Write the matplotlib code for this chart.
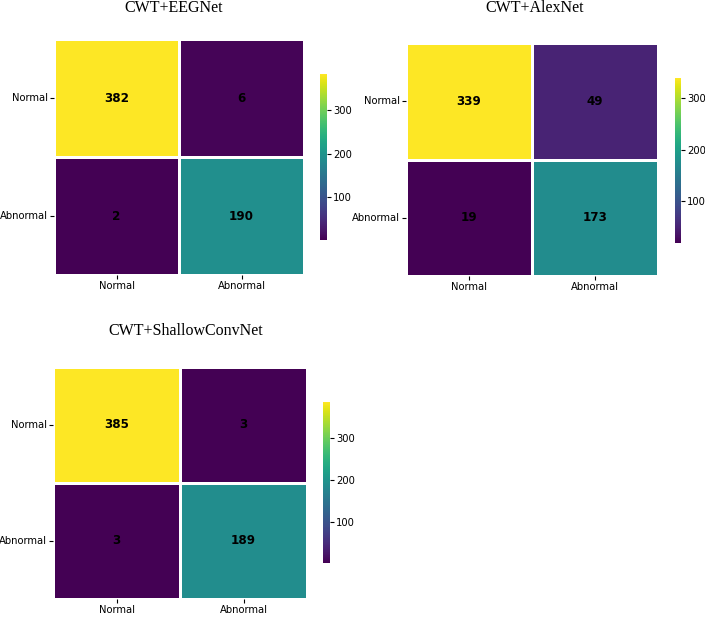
import matplotlib
matplotlib.use("Agg")
import matplotlib.pyplot as plt
import numpy as np
import seaborn as sns

labels = ["Normal", "Abnormal"]
titles = ["CWT+EEGNet", "CWT+AlexNet", "CWT+ShallowConvNet"]
cm_eegnet = [[382, 6], [2, 190]]
cm_alexnet = [[339, 49], [19, 173]]
cm_shallow = [[385, 3], [3, 189]]
matrices = [cm_eegnet, cm_alexnet, cm_shallow]

plt.rcParams["font.family"] = ["DejaVu Sans"]
plt.rcParams["font.stretch"] = "condensed"

fig = plt.figure(figsize=(7.05, 6.21), dpi=100)

W, H = 705, 621
def rect(x0, y0, x1, y1):
    return [x0 / W, 1 - y1 / H, (x1 - x0) / W, (y1 - y0) / H]

panels = [
    (rect(54, 39, 304, 275), rect(320, 74, 327, 240), (174, 8)),
    (rect(406, 43, 658, 276), rect(675, 78, 681, 243), (535, 8)),
    (rect(53, 367, 307, 599), rect(323, 402, 330, 563), (186, 331)),
]

for cm, title, (ar, cr, (tx, ty)) in zip(matrices, titles, panels):
    ax = fig.add_axes(ar)
    cax = fig.add_axes(cr)
    sns.heatmap(np.array(cm), ax=ax, cbar_ax=cax, cmap="viridis", annot=True,
                fmt="d", linewidths=1, linecolor="white",
                annot_kws={"fontsize": 9.5, "fontweight": "bold", "color": "black",
                           "fontstretch": "condensed"},
                xticklabels=labels, yticklabels=labels)
    ax.tick_params(axis="both", labelsize=8, length=3, width=0.8, pad=1.5)
    ax.set_yticklabels(labels, rotation=0, fontstretch="condensed")
    ax.set_xticklabels(labels, rotation=0, fontstretch="condensed")
    cax.tick_params(labelsize=8, length=3, width=0.8, pad=1.2)
    cax.set_yticks([100, 200, 300])
    for t in cax.get_yticklabels():
        t.set_fontstretch("condensed")
    fig.text(tx / W, 1 - ty / H, title, ha="center", va="center",
             fontsize=11.5, family="Liberation Serif")

fig.savefig("out.png", dpi=100)
